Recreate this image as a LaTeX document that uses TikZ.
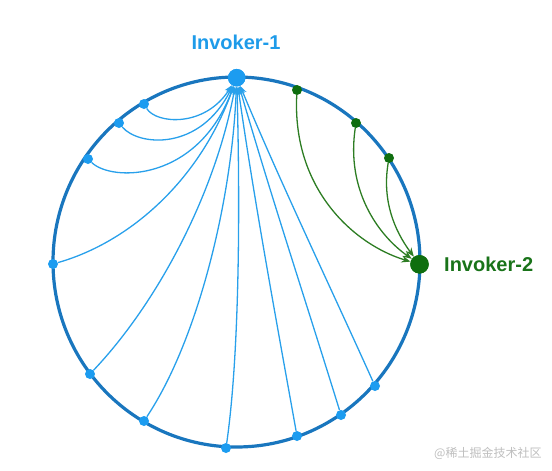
\documentclass[tikz,border=0pt]{standalone}
\usepackage{fontspec}
\setmainfont{Liberation Sans}
\newfontfamily\cjkfont{Noto Sans CJK SC}
\usetikzlibrary{arrows.meta}
\definecolor{ringblue}{RGB}{25,118,190}
\definecolor{dotblue}{RGB}{28,156,240}
\definecolor{lineblue}{RGB}{40,160,235}
\definecolor{lblblue}{RGB}{30,155,233}
\definecolor{dotgreen}{RGB}{15,110,15}
\definecolor{linegreen}{RGB}{45,125,35}
\definecolor{lblgreen}{RGB}{25,115,25}
\definecolor{wmgray}{RGB}{190,190,190}
\tikzset{
  bdot/.style={circle,fill=dotblue,inner sep=0pt,minimum size=10pt},
  gdot/.style={circle,fill=dotgreen,inner sep=0pt,minimum size=10pt},
  bigb/.style={circle,fill=dotblue,inner sep=0pt,minimum size=17.5pt},
  bigg/.style={circle,fill=dotgreen,inner sep=0pt,minimum size=18.5pt},
  bline/.style={draw=lineblue,line width=1.3pt,-{Stealth[length=8pt,width=7pt]}},
  gline/.style={draw=linegreen,line width=1.3pt,-{Stealth[length=9pt,width=7pt]}},
  lbl/.style={font=\bfseries\fontsize{20}{22}\selectfont,inner sep=0pt},
}
\begin{document}
\begin{tikzpicture}[x=1pt,y=-1pt]
\useasboundingbox (0,0) rectangle (552,471);
\draw[ringblue,line width=3.2pt] (236.5,262) ellipse [x radius=183.5, y radius=185];
% main nodes
\node[bigb] (I1) at (236.7,77.7) {};
\node[bigg] (I2) at (419.5,264.3) {};
\node[lbl,text=lblblue] (L1) at (236,42) {Invoker-1};
\node[lbl,text=lblgreen,anchor=west] (L2) at (444,264.5) {Invoker-2};
% blue small nodes
\node[bdot] (b1) at (144,104) {};
\node[bdot] (b2) at (119,123) {};
\node[bdot] (b3) at (88,159) {};
\node[bdot] (b4) at (53,264) {};
\node[bdot] (b5) at (90,374) {};
\node[bdot] (b6) at (144,421) {};
\node[bdot] (b7) at (226,448) {};
\node[bdot] (b8) at (297,436) {};
\node[bdot] (b9) at (341,415) {};
\node[bdot] (b10) at (375,386) {};
% green small nodes
\node[gdot] (g1) at (297,90) {};
\node[gdot] (g2) at (356,123) {};
\node[gdot] (g3) at (389,158) {};
% blue connectors
\path[bline] (b1) .. controls (156,124) and (205,128) .. (I1);
\path[bline] (b2) .. controls (138,146) and (200,152) .. (I1);
\path[bline] (b3) .. controls (112,182) and (198,182) .. (I1);
\path[bline] (b4) .. controls (130,242) and (200,180) .. (I1);
\path[bline] (b5) .. controls (160,300) and (216,190) .. (I1);
\path[bline] (b6) .. controls (198,340) and (232,200) .. (I1);
\path[bline] (b7) .. controls (240,350) and (240,200) .. (I1);
\path[bline] (b8) .. controls (278,330) and (254,200) .. (I1);
\path[bline] (b9) .. controls (307,305) and (271,196) .. (I1);
\path[bline] (b10) .. controls (330,286) and (282,186) .. (I1);
% green connectors
\path[gline] (g1) .. controls (292,190) and (355,245) .. (I2);
\path[gline] (g2) .. controls (346,190) and (378,235) .. (I2);
\path[gline] (g3) .. controls (382,200) and (394,230) .. (I2);
% redraw dots on top
\node[bigb] at (I1) {};
\node[bigg] at (I2) {};
% watermark
\node[text=wmgray,font=\cjkfont\fontsize{12}{14}\selectfont,anchor=west,inner sep=0pt] (wm) at (434,453) {@稀土掘金技术社区};
\end{tikzpicture}
\end{document}
